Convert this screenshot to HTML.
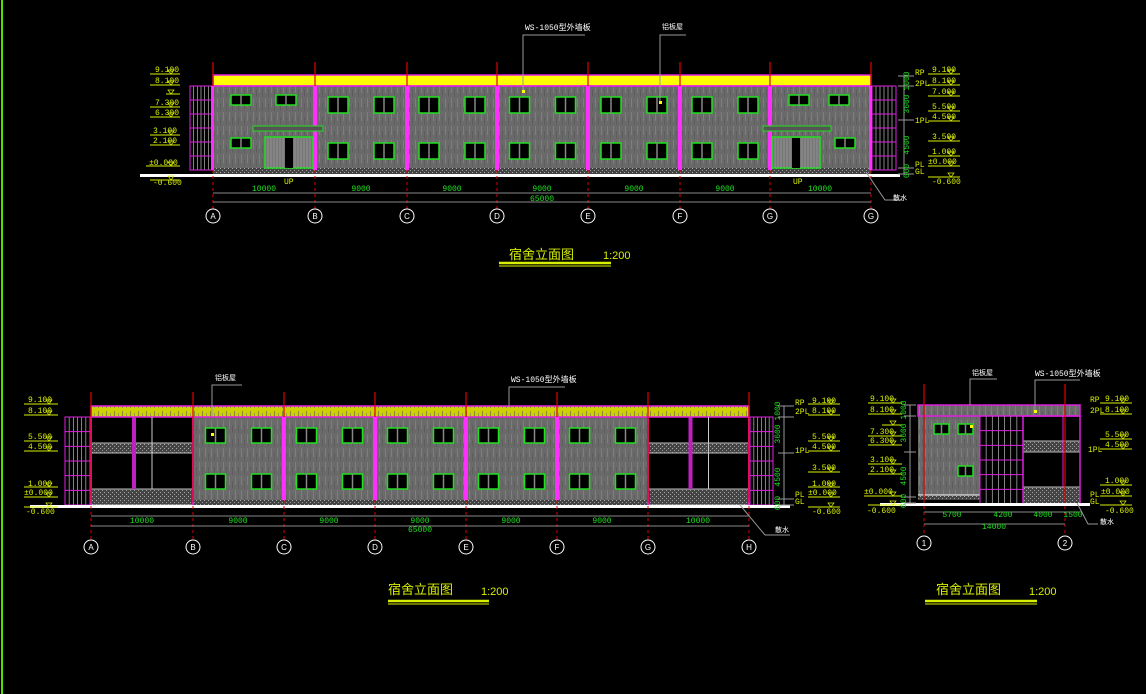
<!DOCTYPE html>
<html><head><meta charset="utf-8"><style>
html,body{margin:0;padding:0;background:#000;}
svg{display:block}
text{font-family:"Liberation Mono","Noto Sans CJK SC",monospace;}
.lv{fill:#d8f000;font-size:8px}
.dm{fill:#20e020;font-size:8px}
.gl{fill:#fff;font-size:8px}
.ti{fill:#d8f000;font-size:13px;font-family:"Liberation Sans","Noto Sans CJK SC",sans-serif}
.sc{fill:#d8f000;font-size:11px;font-family:"Liberation Sans",sans-serif}
.an{fill:#fff;font-size:7px;font-family:"Liberation Sans","Noto Sans CJK SC",sans-serif}
.ax{fill:#fff;font-size:8px;text-anchor:middle;font-family:"Liberation Sans",sans-serif}
</style></head><body>
<svg id="s" width="1146" height="694" viewBox="0 0 1146 694" xmlns="http://www.w3.org/2000/svg">
<defs>
<pattern id="wall" width="6" height="14" patternUnits="userSpaceOnUse">
<rect width="6" height="14" fill="#6a6a6a"/>
<rect x="1" y="0" width="1" height="9" fill="#7e7e7e"/>
<rect x="4" y="5" width="1" height="8" fill="#5e5e5e"/>
</pattern>
<pattern id="grav" width="4" height="4" patternUnits="userSpaceOnUse">
<rect width="4" height="4" fill="#444"/>
<rect x="0" y="0" width="1" height="1" fill="#aaa"/>
<rect x="2" y="2" width="1" height="1" fill="#999"/>
</pattern>
<pattern id="roofp" width="8" height="10" patternUnits="userSpaceOnUse">
<rect width="8" height="10" fill="#d0d000"/>
<rect x="2" y="1" width="1" height="7" fill="#8a8a30"/>
<rect x="6" y="3" width="1" height="5" fill="#a0a040"/>
</pattern>
</defs>
<rect x="1" y="0" width="2" height="694" fill="#50e000"/>
<g id="g"></g>

<text class="lv" x="155" y="72">9.100</text><text class="lv" x="155" y="83">8.100</text>
<text class="lv" x="155" y="105">7.300</text><text class="lv" x="155" y="115">6.300</text>
<text class="lv" x="153" y="133">3.100</text><text class="lv" x="153" y="143">2.100</text>
<text class="lv" x="149" y="165">±0.000</text><text class="lv" x="153" y="185">-0.600</text>
<text class="lv" x="915" y="75">RP</text><text class="lv" x="915" y="86">2PL</text><text class="lv" x="915" y="123">1PL</text>
<text class="lv" x="915" y="167">PL</text><text class="lv" x="915" y="174">GL</text>
<text class="lv" x="932" y="72">9.100</text><text class="lv" x="932" y="83">8.100</text><text class="lv" x="932" y="94">7.000</text>
<text class="lv" x="932" y="109">5.500</text><text class="lv" x="932" y="119">4.500</text><text class="lv" x="932" y="139">3.500</text>
<text class="lv" x="932" y="154">1.000</text><text class="lv" x="928" y="164">±0.000</text><text class="lv" x="932" y="184">-0.600</text>
<text class="dm" transform="translate(909,81) rotate(-90)" text-anchor="middle">1000</text>
<text class="dm" transform="translate(909,104) rotate(-90)" text-anchor="middle">3600</text>
<text class="dm" transform="translate(909,145) rotate(-90)" text-anchor="middle">4500</text>
<text class="dm" transform="translate(909,171) rotate(-90)" text-anchor="middle">600</text>
<text class="dm" x="264" y="191" text-anchor="middle">10000</text><text class="dm" x="361" y="191" text-anchor="middle">9000</text>
<text class="dm" x="452" y="191" text-anchor="middle">9000</text><text class="dm" x="542" y="191" text-anchor="middle">9000</text>
<text class="dm" x="634" y="191" text-anchor="middle">9000</text><text class="dm" x="725" y="191" text-anchor="middle">9000</text>
<text class="dm" x="820" y="191" text-anchor="middle">10000</text><text class="dm" x="542" y="201" text-anchor="middle">65000</text>
<text class="lv" x="284" y="184">UP</text><text class="lv" x="793" y="184">UP</text>
<text class="gl" x="525" y="30">WS-1050型外墙板</text><text class="an" x="662" y="29">铝板屋</text><text class="an" x="893" y="200">散水</text>
<text class="ax" x="213" y="219">A</text><text class="ax" x="315" y="219">B</text><text class="ax" x="407" y="219">C</text><text class="ax" x="497" y="219">D</text>
<text class="ax" x="588" y="219">E</text><text class="ax" x="680" y="219">F</text><text class="ax" x="770" y="219">G</text><text class="ax" x="871" y="219">G</text>
<text class="ti" x="509" y="259">宿舍立面图</text><text class="sc" x="603" y="259">1:200</text>

<text class="lv" x="28" y="402">9.100</text><text class="lv" x="28" y="413">8.100</text>
<text class="lv" x="28" y="439">5.500</text><text class="lv" x="28" y="449">4.500</text>
<text class="lv" x="28" y="486">1.000</text><text class="lv" x="24" y="495">±0.000</text><text class="lv" x="26" y="514">-0.600</text>
<text class="lv" x="795" y="405">RP</text><text class="lv" x="795" y="414">2PL</text><text class="lv" x="795" y="453">1PL</text>
<text class="lv" x="795" y="497">PL</text><text class="lv" x="795" y="504">GL</text>
<text class="lv" x="812" y="403">9.100</text><text class="lv" x="812" y="413">8.100</text><text class="lv" x="812" y="439">5.500</text>
<text class="lv" x="812" y="449">4.500</text><text class="lv" x="812" y="470">3.500</text><text class="lv" x="812" y="486">1.000</text>
<text class="lv" x="808" y="495">±0.000</text><text class="lv" x="812" y="514">-0.600</text>
<text class="dm" transform="translate(780,411) rotate(-90)" text-anchor="middle">1000</text>
<text class="dm" transform="translate(780,434) rotate(-90)" text-anchor="middle">3600</text>
<text class="dm" transform="translate(780,477) rotate(-90)" text-anchor="middle">4500</text>
<text class="dm" transform="translate(780,503) rotate(-90)" text-anchor="middle">600</text>
<text class="dm" x="142" y="523" text-anchor="middle">10000</text><text class="dm" x="238" y="523" text-anchor="middle">9000</text>
<text class="dm" x="329" y="523" text-anchor="middle">9000</text><text class="dm" x="420" y="523" text-anchor="middle">9000</text>
<text class="dm" x="511" y="523" text-anchor="middle">9000</text><text class="dm" x="602" y="523" text-anchor="middle">9000</text>
<text class="dm" x="698" y="523" text-anchor="middle">10000</text><text class="dm" x="420" y="532" text-anchor="middle">65000</text>
<text class="gl" x="511" y="382">WS-1050型外墙板</text><text class="an" x="215" y="380">铝板屋</text><text class="an" x="775" y="532">散水</text>
<text class="ax" x="91" y="550">A</text><text class="ax" x="193" y="550">B</text><text class="ax" x="284" y="550">C</text><text class="ax" x="375" y="550">D</text>
<text class="ax" x="466" y="550">E</text><text class="ax" x="557" y="550">F</text><text class="ax" x="648" y="550">G</text><text class="ax" x="749" y="550">H</text>
<text class="ti" x="388" y="594">宿舍立面图</text><text class="sc" x="481" y="595">1:200</text>

<text class="lv" x="870" y="401">9.100</text><text class="lv" x="870" y="412">8.100</text>
<text class="lv" x="870" y="434">7.300</text><text class="lv" x="870" y="443">6.300</text>
<text class="lv" x="870" y="462">3.100</text><text class="lv" x="870" y="472">2.100</text>
<text class="lv" x="864" y="494">±0.000</text><text class="lv" x="867" y="513">-0.600</text>
<text class="lv" x="1090" y="402">RP</text><text class="lv" x="1090" y="413">2PL</text><text class="lv" x="1088" y="452">1PL</text>
<text class="lv" x="1090" y="497">PL</text><text class="lv" x="1090" y="504">GL</text>
<text class="lv" x="1105" y="401">9.100</text><text class="lv" x="1105" y="412">8.100</text><text class="lv" x="1105" y="437">5.500</text>
<text class="lv" x="1105" y="447">4.500</text><text class="lv" x="1105" y="483">1.000</text><text class="lv" x="1101" y="494">±0.000</text>
<text class="lv" x="1105" y="513">-0.600</text>
<text class="dm" transform="translate(906,410) rotate(-90)" text-anchor="middle">1000</text>
<text class="dm" transform="translate(906,433) rotate(-90)" text-anchor="middle">3600</text>
<text class="dm" transform="translate(906,476) rotate(-90)" text-anchor="middle">4500</text>
<text class="dm" transform="translate(906,501) rotate(-90)" text-anchor="middle">600</text>
<text class="dm" x="952" y="517" text-anchor="middle">5700</text><text class="dm" x="1003" y="517" text-anchor="middle">4200</text>
<text class="dm" x="1043" y="517" text-anchor="middle">4000</text><text class="dm" x="1073" y="517" text-anchor="middle">1500</text>
<text class="dm" x="994" y="529" text-anchor="middle">14000</text>
<text class="gl" x="1035" y="376">WS-1050型外墙板</text><text class="an" x="972" y="375">铝板屋</text><text class="an" x="1100" y="524">散水</text>
<text class="ax" x="924" y="546">1</text><text class="ax" x="1065" y="546">2</text>
<text class="ti" x="936" y="594">宿舍立面图</text><text class="sc" x="1029" y="595">1:200</text>
</svg>
<script>
var G=document.getElementById('g'),NS='http://www.w3.org/2000/svg';
function E(t,a){var e=document.createElementNS(NS,t);for(var k in a)e.setAttribute(k,a[k]);G.appendChild(e);return e;}
function R(x,y,w,h,f,s,sw){return E('rect',{x:x,y:y,width:w,height:h,fill:f||'none',stroke:s||'none','stroke-width':sw||1});}
function L(x1,y1,x2,y2,s,w,d){var a={x1:x1,y1:y1,x2:x2,y2:y2,stroke:s,'stroke-width':w||1};if(d)a['stroke-dasharray']=d;return E('line',a);}
function win(x,y,w,h){R(x,y,w,h,'#000','#20e020',1.5);L(x+w/2,y,x+w/2,y+h,'#888',1.5);}
function stair(x,y,w,h,n,rows){R(x,y,w,h,'none','#e020e0',1);for(var i=1;i<n;i++)L(x+i*w/n,y,x+i*w/n,y+h,'#bbb',0.7);for(var j=0;j<=rows;j++)L(x,y+j*h/rows,x+w,y+j*h/rows,'#e020e0',1);}
function lv(x,y,w){L(x,y,x+w,y,'#d8f000',1);E('path',{d:'M'+(x+w-12)+' '+(y-4)+'l3 4l3 -4z',fill:'none',stroke:'#d8f000','stroke-width':0.7});}
function circ(x,y){E('circle',{cx:x,cy:y,r:7,fill:'none',stroke:'#fff','stroke-width':1});}
function leader(pts){E('polyline',{points:pts,fill:'none',stroke:'#999','stroke-width':1});}
function title(x1,x2,y){L(x1,y,x2,y,'#d8f000',2.5);L(x1,y+3,x2,y+3,'#d8f000',1);}

var T=[213,315,407,497,588,680,770,871];
stair(190,86,22,84,6,6);stair(872,86,24,84,6,6);
R(213,86,658,84,'url(#wall)');
R(213,168,658,6,'url(#grav)');
R(213,75,658,11,'#ffff00','#e020e0',1.5);
L(213,86,871,86,'#e020e0',1.5);
R(140,174,760,3,'#fff');
for(var i=0;i<T.length;i++){L(T[i],62,T[i],170,'#e00000',1.2);L(T[i],170,T[i],210,'#e00000',1,'3 3');if(i>0&&i<7)R(T[i]-2,86,4,84,'#ff30ff');circ(T[i],216);}
R(211,86,3,84,'#ff30ff');R(869,86,3,84,'#ff30ff');
for(var i=1;i<6;i++){var a=T[i],b=T[i+1],c=(a+b)/2;win(c-33,97,20,16);win(c+13,97,20,16);win(c-33,143,20,16);win(c+13,143,20,16);}
win(231,95,20,10);win(276,95,20,10);win(231,138,20,10);
win(789,95,20,10);win(829,95,20,10);win(835,138,20,10);
R(253,126,70,5,'#555','#20e020',1);R(763,126,68,5,'#555','#20e020',1);
[[265,313],[772,820]].forEach(function(d){R(d[0],137,d[1]-d[0],31,'#777','#20e020',1.5);R((d[0]+d[1])/2-4,138,8,30,'#000');for(var x=d[0]+3;x<d[1];x+=3)if(Math.abs(x-(d[0]+d[1])/2)>5)L(x,138,x,168,'#aaa',0.5);});
L(213,193,871,193,'#888',1);L(213,202,871,202,'#888',1);
lv(150,74,30);lv(150,85,30);lv(166,94,14);lv(150,107,30);lv(150,117,30);lv(150,135,30);lv(150,145,30);lv(146,166,34);lv(150,180,30);
lv(928,74,32);lv(928,85,32);lv(928,96,32);lv(928,111,32);lv(928,121,32);lv(928,141,32);lv(928,156,32);lv(928,166,32);lv(928,177,32);
L(904,76,904,174,'#999',1);[76,86,120,168,174].forEach(function(y){L(898,y,914,y,'#999',1);});
leader('523,92 523,35 585,35');leader('660,103 660,35 686,35');leader('866,172 885,200 902,200');
E('rect',{x:522,y:90,width:3,height:3,fill:'#ff0'});E('rect',{x:659,y:101,width:3,height:3,fill:'#ff0'});
title(499,611,263);

var B=[91,193,284,375,466,557,648,749];
stair(65,417,25,88,6,6);stair(750,417,23,88,6,6);
R(193,417,455,83,'url(#wall)');
R(193,500,455,5,'url(#grav)');
R(91,406,658,11,'url(#roofp)','#e020e0',1.5);
[[91,193],[648,749]].forEach(function(p){R(p[0],443,p[1]-p[0],10,'url(#grav)','#bbb',1);R(p[0],489,p[1]-p[0],16,'url(#grav)','#bbb',1);
 var m=p[0]+(p[1]-p[0])*0.5;R(m-10,417,4,72,'#c020c0');L(m+10,417,m+10,489,'#ccc',1);L(p[0],417,p[0],505,'#e020e0',2);L(p[1],417,p[1],505,'#e020e0',2);});
R(30,505,760,3,'#fff');
for(var i=0;i<B.length;i++){L(B[i],392,B[i],500,'#e00000',1.2);L(B[i],500,B[i],540,'#e00000',1,'3 3');if(i>1&&i<6)R(B[i]-2,417,4,83,'#ff30ff');circ(B[i],547);}
for(var i=1;i<6;i++){var a=B[i],b=B[i+1],c=(a+b)/2;win(c-33,428,20,15);win(c+13,428,20,15);win(c-33,474,20,15);win(c+13,474,20,15);}
L(91,516,749,516,'#888',1);L(91,526,749,526,'#888',1);
lv(24,404,34);lv(24,415,34);lv(24,441,34);lv(24,451,34);lv(24,487,34);lv(24,497,34);lv(24,507,34);
lv(808,404,32);lv(808,415,32);lv(808,441,32);lv(808,451,32);lv(808,472,32);lv(808,487,32);lv(808,497,32);lv(808,507,32);
L(784,406,784,505,'#999',1);[406,417,453,499,505].forEach(function(y){L(778,y,794,y,'#999',1);});
leader('212,416 212,385 242,385');leader('509,406 509,387 565,387');leader('740,505 765,535 790,535');
E('rect',{x:211,y:433,width:3,height:3,fill:'#ff0'});
title(388,489,601);

R(918,416,62,84,'url(#wall)');
R(918,405,162,11,'url(#wall)','#e020e0',1.5);
R(918,495,62,5,'url(#grav)');L(918,495,980,495,'#fff',1);
stair(980,416,43,88,7,6);
R(1023,441,57,11,'url(#grav)','#bbb',1);R(1023,487,57,17,'url(#grav)','#bbb',1);
L(1023,416,1080,416,'#e020e0',1.5);L(1023,416,1023,504,'#e020e0',1.5);L(1080,416,1080,504,'#e020e0',1.5);L(1063,416,1063,487,'#e020e0',1);
R(880,503,210,3,'#fff');
L(924,384,924,500,'#e00000',1.2);L(924,500,924,535,'#e00000',1,'3 3');L(1065,384,1065,500,'#e00000',1.2);L(1065,500,1065,535,'#e00000',1,'3 3');
circ(924,543);circ(1065,543);
win(934,424,15,10);win(958,424,15,10);win(958,466,15,10);
L(924,512,1080,512,'#888',1);L(924,524,1065,524,'#888',1);
lv(868,403,34);lv(868,414,34);lv(882,425,20);lv(868,436,34);lv(868,445,34);lv(868,464,34);lv(868,474,34);lv(864,496,38);lv(868,505,34);
lv(1100,403,32);lv(1100,414,32);lv(1100,439,32);lv(1100,449,32);lv(1100,485,32);lv(1100,496,32);lv(1100,505,32);
L(910,405,910,503,'#999',1);[405,416,452,497,503].forEach(function(y){L(904,y,916,y,'#999',1);});
leader('970,405 970,379 997,379');leader('1035,410 1035,380 1080,380');leader('1077,503 1088,524 1098,524');
E('rect',{x:970,y:425,width:3,height:3,fill:'#ff0'});E('rect',{x:1034,y:410,width:3,height:3,fill:'#ff0'});
title(925,1037,601);
</script>
</body></html>
